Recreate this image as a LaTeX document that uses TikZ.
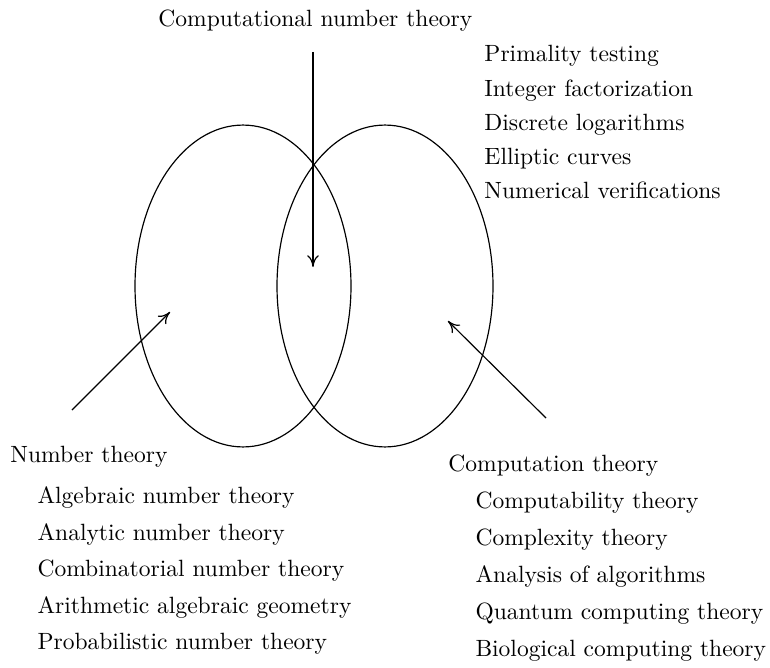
\documentclass[tikz,border=0pt]{standalone}
\usepackage{tikz}
\usetikzlibrary{arrows.meta, positioning}
\tikzset{
    heading/.style={inner sep=0pt, text height=7pt, text depth=2pt, anchor=base west},
    subfield/.style={heading},
    venn/.style={draw, line width=0.5pt},
    pointer/.style={-{To[length=5pt, width=5pt]}, line width=0.5pt},
}

\begin{document}
\begin{tikzpicture}[x=0.425pt, y=-0.425pt]
    \useasboundingbox (0,0) rectangle (770,668);

    % The two areas
    \coordinate (ntc) at (243,286);
    \coordinate (ctc) at (385,286);
    \draw[venn] (ntc) ellipse [x radius=45.9pt, y radius=68.4pt];
    \draw[venn] (ctc) ellipse [x radius=45.9pt, y radius=68.4pt];

    % Overlap: computational number theory
    \node[heading] (cnt) at (158,27) {Computational number theory};
    \node[heading] (prim) at (484,62) {Primality testing};
    \node[subfield, below right=5.1pt and 0pt of prim.south west] (fact) {Integer factorization};
    \node[subfield, below right=5.1pt and 0pt of fact.south west] (dlog) {Discrete logarithms};
    \node[subfield, below right=5.1pt and 0pt of dlog.south west] (ecurve) {Elliptic curves};
    \node[subfield, below right=5.1pt and 0pt of ecurve.south west] (numver) {Numerical verifications};

    % Left: number theory
    \node[heading] (nt) at (10,462) {Number theory};
    \node[subfield, below right=8.4pt and 11.5pt of nt.south west] (alg) {Algebraic number theory};
    \node[subfield, below right=6.1pt and 0pt of alg.south west] (ana) {Analytic number theory};
    \node[subfield, below right=6.1pt and 0pt of ana.south west] (comb) {Combinatorial number theory};
    \node[subfield, below right=6.1pt and 0pt of comb.south west] (arith) {Arithmetic algebraic geometry};
    \node[subfield, below right=6.1pt and 0pt of arith.south west] (prob) {Probabilistic number theory};

    % Right: computation theory
    \node[heading] (ct) at (448,471) {Computation theory};
    \node[subfield, below right=6.7pt and 11.5pt of ct.south west] (cmpb) {Computability theory};
    \node[subfield, below right=6.3pt and 0pt of cmpb.south west] (cmpx) {Complexity theory};
    \node[subfield, below right=6.3pt and 0pt of cmpx.south west] (algo) {Analysis of algorithms};
    \node[subfield, below right=6.3pt and 0pt of algo.south west] (quant) {Quantum computing theory};
    \node[subfield, below right=6.3pt and 0pt of quant.south west] (bio) {Biological computing theory};

    % Pointers into the areas
    \coordinate (cntfrom) at (313,52);
    \coordinate (cntto) at (313,267);
    \coordinate (ntfrom) at (72,410);
    \coordinate (ntto) at (170,312);
    \coordinate (ctfrom) at (546,418);
    \coordinate (ctto) at (448,321);
    \draw[pointer] (cntfrom) -- (cntto);
    \draw[pointer] (ntfrom) -- (ntto);
    \draw[pointer] (ctfrom) -- (ctto);
\end{tikzpicture}
\end{document}
